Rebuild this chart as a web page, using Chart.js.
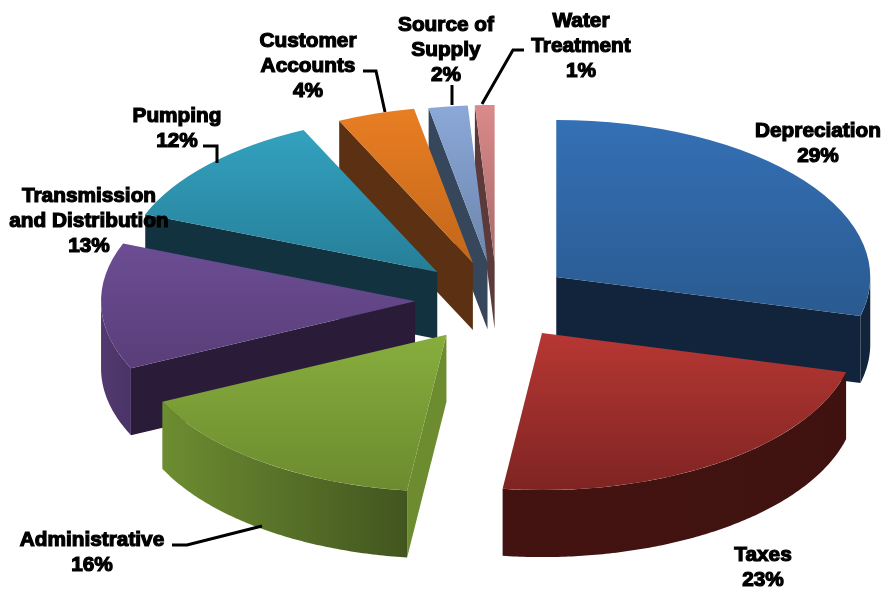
<!DOCTYPE html>
<html><head><meta charset="utf-8">
<script src="https://cdn.jsdelivr.net/npm/chart.js@4"></script>
<style>html,body{margin:0;padding:0;background:#fff}#c{display:block;filter:blur(0.6px)}</style>
</head><body>
<canvas id="c" width="882" height="590"></canvas>
<script>
const categories = ["Depreciation","Taxes","Administrative","Transmission and Distribution","Pumping","Customer Accounts","Source of Supply","Water Treatment"];
const labelLines = [["Depreciation"],["Taxes"],["Administrative"],["Transmission","and Distribution"],["Pumping"],["Customer","Accounts"],["Source of","Supply"],["Water","Treatment"]];
const values = [29,23,16,13,12,4,2,1];
const explode = [37.5,40,43,41,41,39,38,38];
const topLight = ["#3470b5","#b73733","#87ad3d","#6c4d94","#33a2bf","#e97e23","#8ba8d8","#da8a8a"];
const topDark  = ["#2a5a90","#7e2422","#6c8b2f","#593e79","#267e98","#c2671a","#6c85ac","#a86a6a"];
const wallLeft = ["#12243c","#431311","#6d8d31","#523a70","#13323f","#5c3012","#36475c","#5c3a3a"];
const wallRight= ["#12243c","#3f1210","#42551f","#4a3366","#13323f","#552c10","#2e3c4e","#5c3a3a"];
const faceColor= ["#12243c","#431311","#6d8c30","#2a1c38","#13323f","#5c3012","#36475c","#5c3a3a"];
const wallOrder = [7,6,5,4,3,2,0,1];
const labelX = [818,763,92,89,177,308,446,581];
const labelY = [131,555,540,196,116,41,25,21];
const leaders = [
  null,null,
  [[172,545],[187,545],[262,526]],
  null,
  [[203,146],[217,146],[217,163]],
  [[363,71],[376,71],[385,112]],
  [[452,85],[452,105]],
  [[524,50],[513,50],[482,104]]
];
const CX=497, CY=300, SX=2, SY=1, DEPTH=67, LINE=25;

function wedge(arc,i){
  const mid=(arc.startAngle+arc.endAngle)/2, off=explode[i];
  const x=a=>CX+SX*(off*Math.cos(mid)+arc.outerRadius*Math.cos(a));
  const y=a=>CY+SY*(off*Math.sin(mid)+arc.outerRadius*Math.sin(a));
  return {x,y,ax:CX+SX*off*Math.cos(mid),ay:CY+SY*off*Math.sin(mid)};
}
function poly(ctx,pts,fill){
  ctx.beginPath();pts.forEach((p,k)=>k?ctx.lineTo(p[0],p[1]):ctx.moveTo(p[0],p[1]));
  ctx.closePath();ctx.fillStyle=fill;ctx.fill();
}
const pie3d={
  id:'pie3d',
  beforeDatasetsDraw(chart){
    const ctx=chart.ctx, arcs=chart.getDatasetMeta(0).data;
    wallOrder.forEach(i=>{
      const arc=arcs[i], w=wedge(arc,i), s=arc.startAngle, e=arc.endAngle;
      if(Math.cos(s)<0) poly(ctx,[[w.ax,w.ay],[w.x(s),w.y(s)],[w.x(s),w.y(s)+DEPTH],[w.ax,w.ay+DEPTH]],faceColor[i]);
      if(Math.cos(e)>0) poly(ctx,[[w.ax,w.ay],[w.x(e),w.y(e)],[w.x(e),w.y(e)+DEPTH],[w.ax,w.ay+DEPTH]],faceColor[i]);
      const a0=Math.max(s,0), a1=Math.min(e,Math.PI);
      if(a1>a0){
        const top=[],bot=[],n=Math.ceil((a1-a0)*90);
        for(let k=0;k<=n;k++){const a=a0+(a1-a0)*k/n;top.push([w.x(a),w.y(a)]);bot.unshift([w.x(a),w.y(a)+DEPTH]);}
        const xs=top.map(p=>p[0]), g=ctx.createLinearGradient(Math.max(...xs),0,Math.min(...xs),0);
        g.addColorStop(0,wallRight[i]);g.addColorStop(1,wallLeft[i]);
        poly(ctx,top.concat(bot),g);
      }
    });
    const bx=arcs[0].x, by=arcs[0].y;
    ctx.save();
    ctx.translate(CX,CY);ctx.scale(SX,SY);ctx.translate(-bx,-by);
    arcs.forEach((arc,i)=>{
      const mid=(arc.startAngle+arc.endAngle)/2, oy=by+explode[i]*Math.sin(mid);
      const ys=[oy,oy+arc.outerRadius*Math.sin(arc.startAngle),oy+arc.outerRadius*Math.sin(arc.endAngle)];
      if(arc.startAngle<Math.PI/2&&arc.endAngle>Math.PI/2) ys.push(oy+arc.outerRadius);
      if(arc.startAngle<=-Math.PI/2||arc.endAngle>=3*Math.PI/2) ys.push(oy-arc.outerRadius);
      const g=ctx.createLinearGradient(0,Math.min(...ys),0,Math.max(...ys));
      g.addColorStop(0,topLight[i]);g.addColorStop(1,topDark[i]);
      arc.options=Object.assign({},arc.options,{backgroundColor:g,borderWidth:0});
      arc.x=bx+explode[i]*Math.cos(mid);
      arc.y=oy;
    });
  },
  afterDatasetsDraw(chart){
    const ctx=chart.ctx;
    ctx.restore();
    ctx.save();
    ctx.strokeStyle='#000';ctx.lineWidth=3;ctx.lineJoin='miter';
    leaders.forEach(l=>{ if(!l)return;
      ctx.beginPath();l.forEach((p,k)=>k?ctx.lineTo(p[0],p[1]):ctx.moveTo(p[0],p[1]));ctx.stroke();});
    ctx.font='bold 20.8px "Liberation Sans", Arial, sans-serif';
    ctx.textAlign='center';ctx.textBaseline='middle';
    ctx.fillStyle='#000';ctx.strokeStyle='#000';ctx.lineWidth=1.2;
    const total=values.reduce((a,b)=>a+b,0);
    labelLines.forEach((ls,i)=>{
      const lines=ls.concat([Math.round(values[i]/total*100)+'%']);
      lines.forEach((t,k)=>{
        const y=labelY[i]+k*LINE;
        ctx.strokeText(t,labelX[i],y);ctx.fillText(t,labelX[i],y);
      });
    });
    ctx.restore();
  }
};
new Chart(document.getElementById('c'),{
  type:'pie',
  data:{labels:categories,datasets:[{data:values,backgroundColor:topLight,borderWidth:0,clip:false}]},
  options:{responsive:false,animation:false,radius:157,
    layout:{padding:0},
    plugins:{legend:{display:false},tooltip:{enabled:false},title:{display:false}},
    events:[]},
  plugins:[pie3d]
});
</script>
</body></html>
